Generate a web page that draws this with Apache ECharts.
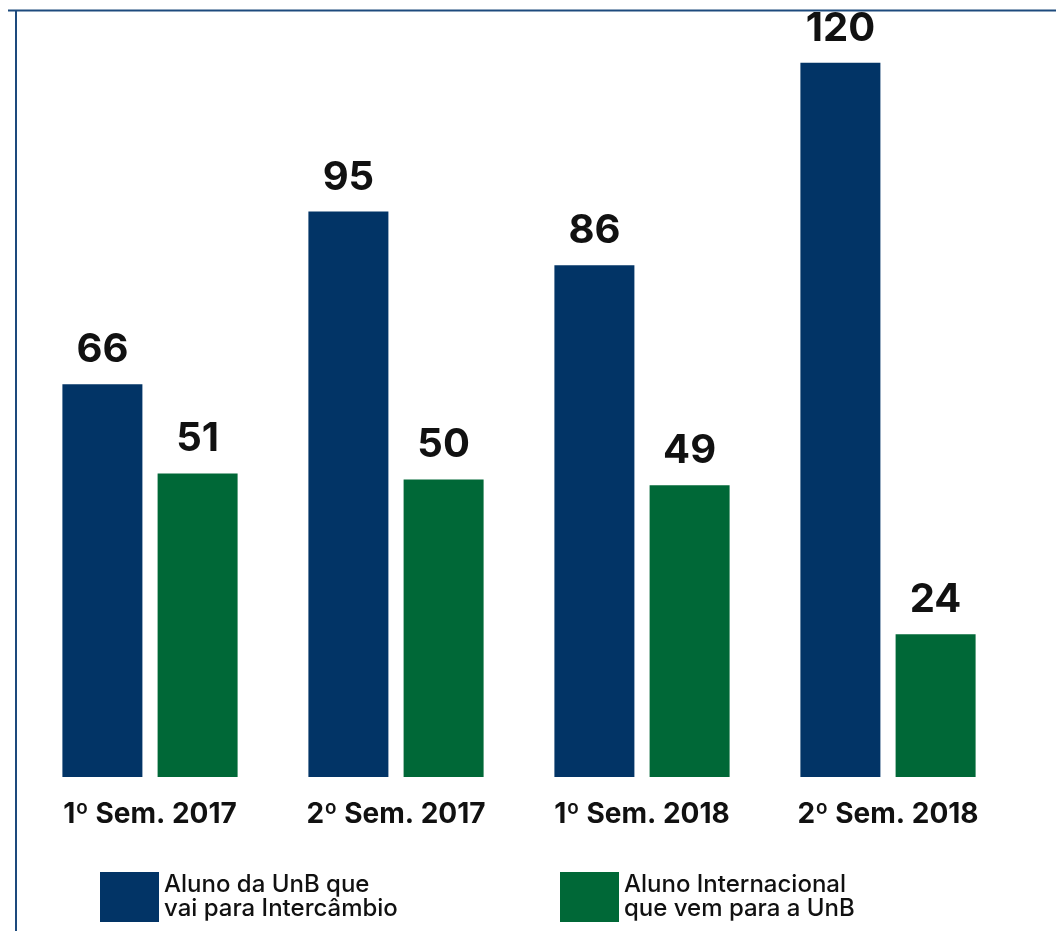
<!DOCTYPE html>
<html>
<head>
<meta charset="utf-8">
<script src="https://cdn.jsdelivr.net/npm/echarts@6/dist/echarts.min.js"></script>
<style>
  html, body { margin: 0; padding: 0; background: #fff; }
  #container { width: 1056px; height: 931px; }
</style>
</head>
<body>
<div id="container"></div>
<script>
// semestres
var categories = ['1º Sem. 2017', '2º Sem. 2017', '1º Sem. 2018', '2º Sem. 2018'];
var nomeSaida = 'Aluno da UnB que\nvai para Intercâmbio';
var nomeEntrada = 'Aluno Internacional\nque vem para a UnB';
var saida = [66, 95, 86, 120];     // alunos da UnB indo
var entrada = [51, 50, 49, 24];    // alunos internacionais vindo

var azul = '#023466';
var verde = '#006837';

var dom = document.getElementById('container');
var myChart = echarts.init(dom);

var valueLabel = {
    show: true,
    position: 'top',
    distance: 14,
    color: '#111',
    fontFamily: 'Inter',
    fontWeight: 'bold',
    fontSize: 40
};

var legendText = {
    fontFamily: 'Inter',
    fontWeight: 500,
    fontSize: 24,
    lineHeight: 24,
    color: '#111'
};

var option = {
    backgroundColor: '#fff',
    animation: false,
    grid: {
        left: 27,
        right: 45,
        top: 33,
        bottom: 154
    },
    legend: [{
        data: [nomeSaida],
        left: 100,
        top: 872,
        padding: 0,
        itemWidth: 59,
        itemHeight: 50,
        icon: 'rect',
        textStyle: legendText
    }, {
        data: [nomeEntrada],
        left: 560,
        top: 872,
        padding: 0,
        itemWidth: 59,
        itemHeight: 50,
        icon: 'rect',
        textStyle: legendText
    }],
    xAxis: {
        type: 'category',
        data: categories,
        axisLine: { show: false },
        axisTick: { show: false },
        axisLabel: {
            interval: 0,
            margin: 24,
            color: '#111',
            fontFamily: 'Inter',
            fontWeight: 'bold',
            fontSize: 28
        }
    },
    yAxis: {
        type: 'value',
        min: 0,
        max: 125,
        show: false,
        splitLine: { show: false }
    },
    series: [{
        name: nomeSaida,
        type: 'bar',
        data: saida,
        barWidth: 80,
        barGap: '19%',
        itemStyle: { color: azul },
        label: valueLabel
    }, {
        name: nomeEntrada,
        type: 'bar',
        data: entrada,
        barWidth: 80,
        itemStyle: { color: verde },
        label: valueLabel
    }],
    graphic: [{
        type: 'line',
        shape: { x1: 8, y1: 10.5, x2: 1056, y2: 10.5 },
        style: { stroke: '#1d4a7d', lineWidth: 2 }
    }, {
        type: 'line',
        shape: { x1: 16, y1: 10, x2: 16, y2: 931 },
        style: { stroke: '#1d4a7d', lineWidth: 2 }
    }]
};

if (option && typeof option === 'object') {
    myChart.setOption(option, true);
}
</script>
</body>
</html>
